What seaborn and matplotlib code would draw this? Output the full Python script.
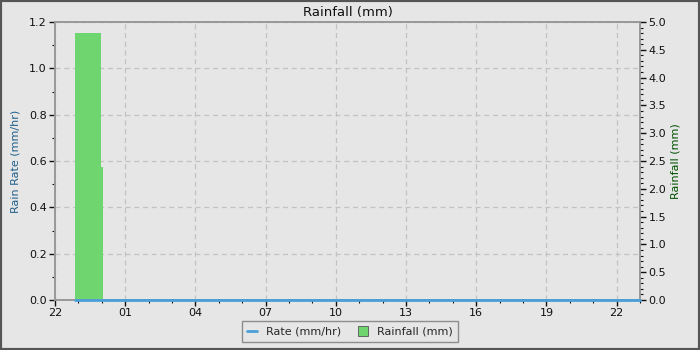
import matplotlib
matplotlib.use("Agg")
import matplotlib.pyplot as plt
import seaborn as sns
import pandas as pd
import numpy as np
from matplotlib.lines import Line2D
from matplotlib.patches import Patch

# hours since 22:00
rate_time = [0.85, 25.0]
rate_value = [0.0, 0.0]

rain_start = [0.85, 1.95]
rain_width = [1.12, 0.08]
rain_mm = [4.8, 2.4]

tick_hours = [0, 3, 6, 9, 12, 15, 18, 21, 24]
tick_labels = ["22", "01", "04", "07", "10", "13", "16", "19", "22"]

sns.set_theme(style="ticks")
plt.rcParams['font.family'] = ['DejaVu Sans']

bg = "#e6e6e6"
fig = plt.figure(figsize=(7, 3.5), dpi=100, facecolor=bg)
fig.patches.append(plt.Rectangle((0, 0), 1, 1, transform=fig.transFigure,
                                 fill=False, edgecolor="#555555", linewidth=3))
ax = fig.add_axes([55/700, 50/350, 585/700, 278/350])
ax.set_facecolor(bg)
ax2 = ax.twinx()

ax2.bar(rain_start, rain_mm, width=rain_width, align="edge", color="#6fd66f",
        edgecolor="none", zorder=2)
df = pd.DataFrame({"t": rate_time, "v": rate_value})
sns.lineplot(data=df, x="t", y="v", ax=ax2, color="#4a9fd8", linewidth=2,
             zorder=5, clip_on=False)

ax.set_xlim(0, 25)
ax.set_ylim(0, 1.2)
ax2.set_ylim(0, 5.0)
ax.set_xticks(tick_hours)
ax.set_xticklabels(tick_labels)
ax.set_xticks(np.arange(0, 26, 1), minor=True)
ax.set_yticks(np.arange(0, 1.21, 0.2))
ax.set_yticks(np.arange(0, 1.21, 0.1), minor=True)
ax2.set_yticks(np.arange(0, 5.01, 0.5))
ax2.set_yticks(np.arange(0, 5.01, 0.1), minor=True)
ax2.set_xlabel("")
ax2.set_ylabel("")
ax.grid(True, which="major", linestyle=(0, (4, 3)), color="#c2c2c2", linewidth=0.9)
ax.set_axisbelow(True)

for a in (ax, ax2):
    for s in a.spines.values():
        s.set_color("#999999")
    a.tick_params(which="major", length=4, width=1, labelsize=8, color="#111111",
                  labelcolor="#111111", pad=2)
    a.tick_params(which="minor", length=2, width=0.8, color="#111111")
ax.yaxis.set_major_formatter(matplotlib.ticker.FormatStrFormatter("%.1f"))
ax2.yaxis.set_major_formatter(matplotlib.ticker.FormatStrFormatter("%.1f"))

ax.set_ylabel("Rain Rate (mm/hr)", color="#1f5f8b", fontsize=8, labelpad=6)
ax2.set_ylabel("Rainfall (mm)", color="#005000", fontsize=8, labelpad=3)
ax.set_title("Rainfall (mm)", fontsize=9.5, pad=4, color="#111111")

handles = [Line2D([0], [0], color="#4a9fd8", linewidth=2),
           Patch(facecolor="#6fd66f", edgecolor="#555555", linewidth=0.6)]
leg = fig.legend(handles, ["Rate (mm/hr)", "Rainfall (mm)"], loc="lower center",
                 bbox_to_anchor=(350/700, 2/350), ncol=2, fontsize=8, frameon=True,
                 fancybox=False, handlelength=0.9, handleheight=0.9, columnspacing=1.5,
                 borderpad=0.5)
leg.get_frame().set_facecolor(bg)
leg.get_frame().set_edgecolor("#777777")

fig.savefig("out.png", dpi=100, facecolor=bg)
